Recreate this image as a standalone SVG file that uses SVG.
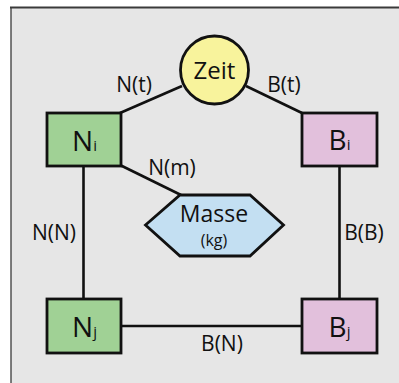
<svg xmlns="http://www.w3.org/2000/svg" width="399" height="383" viewBox="0 0 399 383">
<style>
.lbl{font-family:"Open Sans","Noto Sans",sans-serif;font-size:21px;fill:#111;text-anchor:middle}
.big{font-family:"Open Sans","Noto Sans",sans-serif;font-size:28px;fill:#111;text-anchor:middle}
.sub{font-size:15px}
.node{stroke:#111;stroke-width:2.8}
.edge{stroke:#111;stroke-width:2.6;fill:none}
</style>
<rect x="0" y="0" width="399" height="383" fill="#ffffff"/>
<rect x="11" y="7" width="400" height="390" fill="#e6e6e6"/>
<line x1="10" y1="7.5" x2="399" y2="7.5" stroke="#3a3a3a" stroke-width="2"/>
<line x1="11" y1="7" x2="11" y2="383" stroke="#3a3a3a" stroke-width="1.3"/>
<g id="connectors">
<line class="edge" x1="182" y1="86" x2="120" y2="113"/>
<line class="edge" x1="246" y1="86" x2="302" y2="113"/>
<line class="edge" x1="120" y1="165" x2="181" y2="195"/>
<line class="edge" x1="83.5" y1="166" x2="83.5" y2="299"/>
<line class="edge" x1="339.5" y1="166" x2="339.5" y2="299"/>
<line class="edge" x1="121" y1="326" x2="302" y2="326"/>
<text class="lbl" x="134" y="91.5">N(t)</text>
<text class="lbl" x="284" y="91.5">B(t)</text>
<text class="lbl" x="172" y="175">N(m)</text>
<text class="lbl" x="54" y="240">N(N)</text>
<text class="lbl" x="364" y="240">B(B)</text>
<text class="lbl" x="222" y="350.5">B(N)</text>
</g>
<g id="zeit">
<circle class="node" cx="214.5" cy="70" r="34" fill="#f8f39c"/>
<text class="lbl" x="214.5" y="79" style="font-size:24px">Zeit</text>
</g>
<g id="ni">
<rect class="node" x="47" y="113" width="74" height="53" fill="#a0d195"/>
<text class="big" x="84.5" y="151">N<tspan class="sub">i</tspan></text>
</g>
<g id="bi">
<rect class="node" x="302" y="113" width="75" height="53" fill="#e2c0dc"/>
<text class="big" x="339.5" y="150">B<tspan class="sub">i</tspan></text>
</g>
<g id="nj">
<rect class="node" x="47" y="299" width="74" height="54" fill="#a0d195"/>
<text class="big" x="84.5" y="337">N<tspan class="sub">j</tspan></text>
</g>
<g id="bj">
<rect class="node" x="302" y="299" width="75" height="54" fill="#e2c0dc"/>
<text class="big" x="339.5" y="337">B<tspan class="sub">j</tspan></text>
</g>
<g id="masse">
<polygon class="node" points="145.5,225 180,195 250,195 283.5,225 250,256 180,256" fill="#c3dff2"/>
<text class="lbl" x="214" y="222" style="font-size:23px">Masse</text>
<text class="lbl" x="214" y="246" style="font-size:16px">(kg)</text>
</g>
</svg>
